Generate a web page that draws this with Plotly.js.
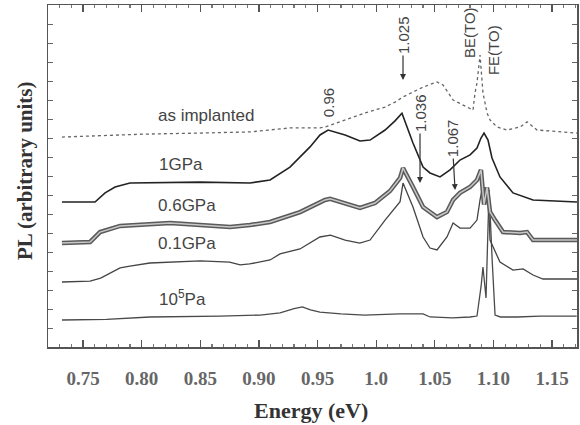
<!DOCTYPE html>
<html>
<head>
<meta charset="utf-8">
<script src="https://cdn.plot.ly/plotly-3.0.1.min.js"></script>
<style>html,body{margin:0;padding:0;background:#fff}#chart{width:580px;height:425px}</style>
</head>
<body>
<div id="chart"></div>
<script>
// Energy (eV) and PL (arbitrary units, stacked offsets)
var e_1e5 = [0.732,0.770,0.807,0.850,0.867,0.901,0.918,0.930,0.937,0.944,0.952,0.970,0.990,1.020,1.040,1.046,1.065,1.080,1.086,1.0895,1.0911,1.0937,1.0963,1.0990,1.1014,1.106,1.120,1.140,1.171];
var pl_1e5 = [1.42,1.45,1.58,1.60,1.63,1.68,1.80,2.02,2.11,1.95,1.84,1.74,1.68,1.74,1.74,1.58,1.53,1.58,1.63,3.2,4.21,2.58,8.26,4.5,1.68,1.58,1.58,1.63,1.63];

var e_01 = [0.732,0.756,0.765,0.7816,0.790,0.807,0.850,0.875,0.884,0.892,0.9095,0.918,0.935,0.944,0.952,0.961,0.9735,0.986,0.9948,1.0076,1.0204,1.0229,1.0314,1.040,1.0459,1.0519,1.0604,1.0656,1.0715,1.0801,1.086,1.0886,1.0911,1.0929,1.0954,1.0971,1.1014,1.1056,1.1167,1.1253,1.1338,1.1423,1.1713];
var pl_01 = [3.42,3.47,3.63,4.16,4.26,4.42,4.53,4.47,4.32,4.37,4.58,4.90,5.16,5.50,5.79,5.89,5.63,5.47,5.63,6.68,7.65,8.63,7.37,5.79,5.21,5.11,5.79,6.53,6.26,6.26,6.68,7.74,8.53,7.80,8.26,5.63,5.00,4.47,4.05,4.11,3.79,3.58,3.58];

var e_06 = [0.732,0.756,0.7645,0.7816,0.8242,0.850,0.8754,0.8924,0.9095,0.9351,0.9564,0.9607,0.9692,0.9862,0.999,1.0118,1.0204,1.0229,1.0314,1.040,1.0519,1.0604,1.0656,1.0715,1.0801,1.086,1.0894,1.092,1.0946,1.0971,1.1014,1.1082,1.1227,1.1287,1.1338,1.1713];
var pl_06 = [5.47,5.53,6.05,6.37,6.53,6.42,6.32,6.42,6.58,7.10,7.74,7.80,7.63,7.32,7.58,8.21,8.90,9.42,8.42,7.37,6.84,7.11,7.74,8.11,8.42,8.79,9.32,7.50,8.40,7.11,6.68,6.05,6.00,6.05,5.63,5.63];

var e_1 = [0.732,0.7602,0.7688,0.7773,0.790,0.8498,0.8924,0.9095,0.9265,0.9351,0.9436,0.9521,0.959,0.9735,0.9862,0.9948,1.0076,1.0161,1.022,1.0314,1.040,1.0459,1.0545,1.063,1.0715,1.0801,1.086,1.0894,1.092,1.0954,1.0988,1.1056,1.1167,1.1338,1.1713];
var pl_1 = [7.63,7.63,8.11,8.42,8.63,8.68,8.63,8.79,9.47,10.0,10.53,11.16,11.42,11.16,10.84,10.89,11.42,11.9,12.3,10.74,9.47,9.16,8.95,9.32,9.84,10.11,10.47,11.0,11.26,10.89,9.95,8.95,8.11,7.74,7.63];

var e_imp = [0.732,0.800,0.8498,0.8924,0.9265,0.9521,0.9564,0.9735,0.9905,1.0076,1.0161,1.0229,1.040,1.0519,1.057,1.0656,1.0775,1.0826,1.0843,1.086,1.0886,1.0911,1.0946,1.0971,1.1031,1.1116,1.1227,1.1287,1.1372,1.1713];
var pl_imp = [11.05,11.2,11.26,11.32,11.53,11.53,11.58,11.95,12.32,12.63,12.89,13.16,13.68,13.95,13.79,13.0,12.63,12.47,13.37,13.9,15.37,13.37,12.32,11.95,11.58,11.42,11.58,11.85,11.42,11.26];

var tickVals = [0.75,0.80,0.85,0.90,0.95,1.00,1.05,1.10,1.15];
var tickText = ['0.75','0.80','0.85','0.90','0.95','1.0','1.05','1.10','1.15'];

var curveLabels = ['as implanted','1GPa','0.6GPa','0.1GPa','10<sup>5</sup>Pa'];
var curveLabelX = [0.855,0.8336,0.8387,0.8387,0.8344];
var curveLabelY = [12.21,9.58,7.47,5.47,2.58];

var peakLabels = ['0.96','1.025','1.036','1.067','BE(TO)','FE(TO)'];
var peakX = [0.959,1.0229,1.0374,1.0673,1.080,1.0997];
var peakY = [12.84,14.05,8.63,8.26,16.58,15.63];

var traces = [
  {x:e_1e5, y:pl_1e5, mode:'lines', line:{color:'#4a4a4a', width:1.3}},
  {x:e_01, y:pl_01, mode:'lines', line:{color:'#444', width:1.3}},
  {x:e_06, y:pl_06, mode:'lines', line:{color:'#5a5a5a', width:4.5}},
  {x:e_06, y:pl_06, mode:'lines', line:{color:'#c8c8c8', width:1.5}},
  {x:e_1, y:pl_1, mode:'lines', line:{color:'#222', width:1.6}},
  {x:e_imp, y:pl_imp, mode:'lines', line:{color:'#666', width:1.3, dash:'dot'}}
];

var ann = [];
for (var i = 0; i < curveLabels.length; i++) {
  ann.push({x:curveLabelX[i], y:curveLabelY[i], text:curveLabels[i], showarrow:false,
    xanchor:'center', yanchor:'middle',
    font:{family:'Liberation Sans, Arial, sans-serif', size:17, color:'#444'}});
}
var arrowAy = [0,-45,-70,-52,0,0];
var arrowAx = [0,0,0,-3,0,0];
for (var j = 0; j < peakLabels.length; j++) {
  var hasArrow = (j >= 1 && j <= 3);
  ann.push({x:peakX[j], y:peakY[j], text:peakLabels[j], textangle:-90,
    showarrow:hasArrow, ax:arrowAx[j], ay:arrowAy[j], arrowhead:2, arrowsize:1, arrowwidth:1.2, arrowcolor:'#333',
    font:{family:'Liberation Sans, Arial, sans-serif', size:15, color:'#444'}});
}
ann.push({xref:'paper', yref:'paper', x:0.497, y:-0.187, xanchor:'center', yanchor:'middle',
  text:'Energy (eV)', showarrow:false,
  font:{family:'Liberation Serif, Times New Roman, serif', size:22, color:'#333', weight:700}});
ann.push({xref:'paper', yref:'paper', x:-0.0435, y:0.5175, xanchor:'center', yanchor:'middle',
  text:'PL (arbitrary units)', textangle:-90, showarrow:false,
  font:{family:'Liberation Serif, Times New Roman, serif', size:21, color:'#333', weight:700}});

var layout = {
  width:580, height:425,
  margin:{l:48, r:3, t:5, b:78},
  paper_bgcolor:'#fff', plot_bgcolor:'#fff',
  showlegend:false,
  xaxis:{range:[0.7201,1.1713], tickvals:tickVals, ticktext:tickText,
    ticks:'inside', ticklen:7, tickwidth:1.2, tickcolor:'#555',
    minor:{dtick:0.01, tick0:0.75, ticks:'inside', ticklen:3, tickcolor:'#777'},
    showline:true, linecolor:'#555', linewidth:1.5, mirror:'ticks',
    showgrid:false, zeroline:false, ticklabelstandoff:14,
    tickfont:{family:'Liberation Serif, Times New Roman, serif', size:19, color:'#666', weight:700}},
  yaxis:{range:[0,18], dtick:1, tick0:0, ticks:'inside', ticklen:5, tickcolor:'#666',
    showticklabels:false, showline:true, linecolor:'#555', linewidth:1.5, mirror:'ticks',
    showgrid:false, zeroline:false},
  annotations:ann
};

Plotly.newPlot('chart', traces, layout, {staticPlot:true, displayModeBar:false});
</script>
</body>
</html>
